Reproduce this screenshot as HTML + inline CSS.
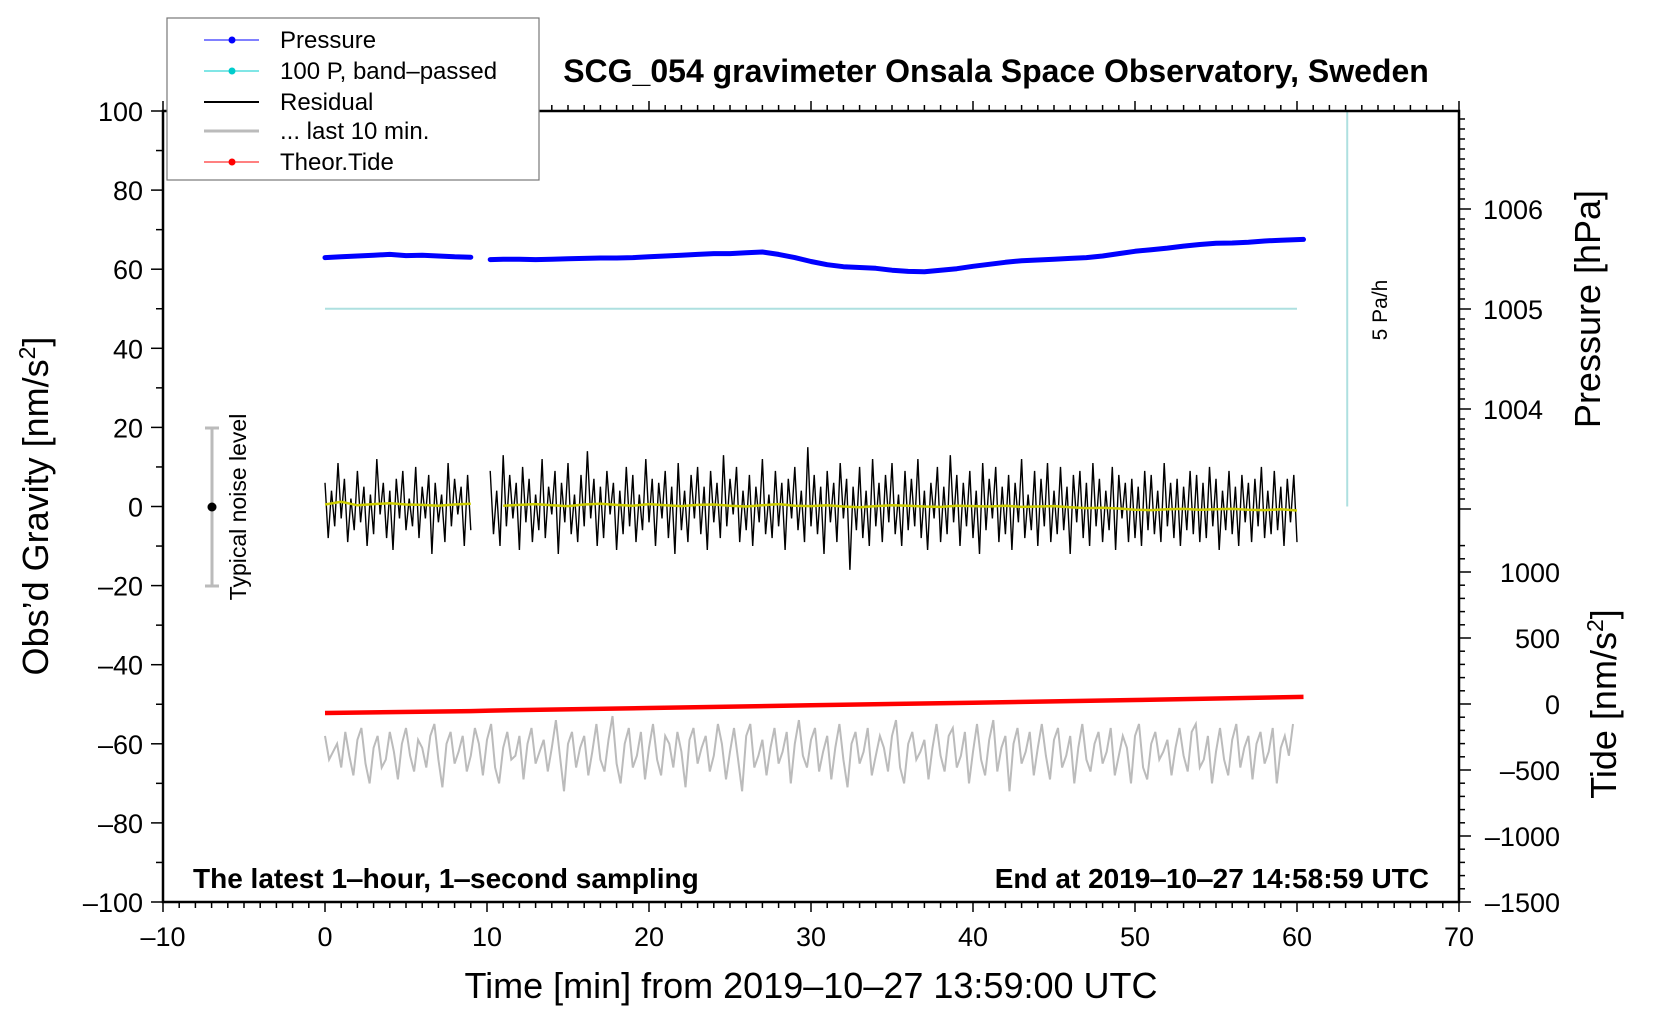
<!DOCTYPE html>
<html><head><meta charset="utf-8">
<style>
html,body{margin:0;padding:0;background:#fff;}
svg{display:block;font-family:"Liberation Sans",Arial,sans-serif;}
</style></head>
<body>
<svg id="chart" width="1660" height="1020" viewBox="0 0 1660 1020" xmlns="http://www.w3.org/2000/svg">
<rect x="0" y="0" width="1660" height="1020" fill="#fff"/>
<g id="marks"></g>
<g id="axes"></g>
<text x="996" y="82" font-size="32" font-weight="bold" text-anchor="middle">SCG_054 gravimeter Onsala Space Observatory, Sweden</text>
<text x="193" y="888" font-size="28" font-weight="bold">The latest 1‒hour, 1‒second sampling</text>
<text x="1429" y="888" font-size="28" font-weight="bold" text-anchor="end">End at 2019‒10‒27 14:58:59 UTC</text>
<text x="811" y="998" font-size="36" text-anchor="middle">Time [min] from 2019‒10‒27 13:59:00 UTC</text>
<text transform="translate(48,506) rotate(-90)" font-size="36" text-anchor="middle">Obs’d Gravity [nm/s<tspan dy="-13" font-size="23">2</tspan><tspan dy="13">]</tspan></text>
<text transform="translate(1600,309) rotate(-90)" font-size="36" text-anchor="middle">Pressure [hPa]</text>
<text transform="translate(1616,704) rotate(-90)" font-size="36" text-anchor="middle">Tide [nm/s<tspan dy="-13" font-size="23">2</tspan><tspan dy="13">]</tspan></text>
<text transform="translate(1387,310) rotate(-90)" font-size="21" text-anchor="middle">5 Pa/h</text>
<g>
<line x1="212" y1="428" x2="212" y2="586" stroke="#bbb" stroke-width="3"/>
<line x1="205" y1="428" x2="219" y2="428" stroke="#bbb" stroke-width="3"/>
<line x1="205" y1="586" x2="219" y2="586" stroke="#bbb" stroke-width="3"/>
<circle cx="212" cy="507" r="4.5" fill="#000"/>
<text transform="translate(246,507) rotate(-90)" font-size="23" text-anchor="middle">Typical noise level</text>
</g>
<g>
<rect x="167" y="18" width="372" height="162" fill="#fff" stroke="#777" stroke-width="1.2"/>
<g><line x1="204" y1="40" x2="259" y2="40" stroke="#00f" stroke-width="1"/><circle cx="232" cy="40" r="3.5" fill="#00f"/><text x="280" y="48" font-size="24">Pressure</text></g>
<g><line x1="204" y1="71" x2="259" y2="71" stroke="#0cc" stroke-width="1"/><circle cx="232" cy="71" r="3.5" fill="#0cc"/><text x="280" y="79" font-size="24">100 P, band‒passed</text></g>
<g><line x1="204" y1="102" x2="259" y2="102" stroke="#000" stroke-width="2"/><text x="280" y="110" font-size="24">Residual</text></g>
<g><line x1="204" y1="131" x2="259" y2="131" stroke="#bbb" stroke-width="3"/><text x="280" y="139" font-size="24">... last 10 min.</text></g>
<g><line x1="204" y1="162" x2="259" y2="162" stroke="#f00" stroke-width="1"/><circle cx="232" cy="162" r="3.5" fill="#f00"/><text x="280" y="170" font-size="24">Theor.Tide</text></g>
</g>
</svg>
<script>
// ---- data ----
const xTicks = [-10,0,10,20,30,40,50,60,70];
const yTicks = [100,80,60,40,20,0,-20,-40,-60,-80,-100];
const pTicks = [1006,1005,1004];
const tideTicks = [1000,500,0,-500,-1000,-1500];
const pressureHPa = [1005.514,1005.522,1005.530,1005.538,1005.546,1005.534,1005.538,1005.530,1005.522,1005.518,
 null,
 1005.494,1005.498,1005.498,1005.494,1005.498,1005.502,1005.506,1005.510,1005.510,1005.514,1005.522,1005.530,1005.538,1005.546,1005.554,1005.554,1005.562,1005.570,1005.546,1005.514,
 1005.475,1005.443,1005.423,1005.415,1005.407,1005.388,1005.376,1005.372,1005.388,1005.403,1005.427,1005.447,1005.467,1005.483,1005.490,1005.498,1005.506,1005.514,1005.530,1005.554,
 1005.577,1005.593,1005.609,1005.629,1005.645,1005.657,1005.660,1005.668,1005.680,1005.688,1005.696];
const pressureTimes = [0,1,2,3,4,5,6,7,8,9,9.5,10.2,11,12,13,14,15,16,17,18,19,20,21,22,23,24,25,26,27,28,29,30,31,32,33,34,35,36,37,38,39,40,41,42,43,44,45,46,47,48,49,50,51,52,53,54,55,56,57,58,59,60.4];
const bandPassed = [50,50];
const bandTimes = [0,60];
const residualStep = 0.2;
const residual = [
6,-8,4,-5,11,-3,7,-9,2,-6,9,-4,5,-10,3,-7,12,-2,6,-8,
4,-11,7,-3,9,-6,2,-5,10,-8,5,-3,8,-12,6,-4,3,-9,11,-5,
7,-2,5,-10,8,-6,
null,null,null,null,null,
9,-7,4,-10,13,-5,8,-3,6,-11,10,-4,7,-9,3,-6,12,-8,5,-2,
9,-12,6,-4,11,-7,3,-9,8,-5,14,-3,7,-10,5,-8,9,-2,6,-11,
4,-7,10,-5,8,-9,3,-6,12,-4,7,-10,6,-3,9,-8,5,-12,11,-6,
4,-9,8,-3,10,-7,5,-11,9,-4,6,-8,13,-5,7,-2,10,-9,4,-6,
8,-10,5,-4,12,-7,3,-8,9,-5,6,-11,7,-3,10,-6,4,-9,15,-5,
8,-7,5,-12,9,-4,6,-9,11,-3,7,-16,5,-6,10,-8,4,-10,12,-5,
6,-9,8,-4,11,-7,3,-10,9,-6,7,-5,12,-8,4,-11,6,-3,10,-9,
5,-7,13,-4,8,-10,6,-5,9,-8,4,-12,11,-6,7,-3,10,-9,5,-7,
8,-11,6,-4,12,-8,3,-6,9,-10,7,-5,11,-9,4,-7,10,-6,5,-12,
8,-4,9,-8,6,-10,11,-5,7,-9,4,-6,10,-11,8,-3,6,-9,7,-8,
5,-10,9,-6,8,-7,4,-9,11,-5,6,-8,7,-10,5,-6,9,-7,8,-9,
6,-8,10,-5,7,-11,4,-6,9,-7,5,-10,8,-4,6,-9,7,-5,10,-8,
4,-7,9,-6,5,-10,7,-4,8,-9];
const smoothStep = 1;
const smoothed = [0.5,1.2,0.3,0.6,0.8,0.5,0.4,0.2,0.5,0.7,null,0.2,0.4,0.6,0.3,0.1,0.5,0.7,0.4,0.2,
 0.6,0.3,0.1,0.4,0.5,0.2,0.0,0.3,0.6,0.2,0.1,0.3,0.0,-0.2,0.1,0.3,0.2,0.0,-0.1,0.2,
 0.1,0.0,0.2,-0.1,0.0,0.1,-0.2,-0.4,-0.3,-0.5,-0.8,-0.9,-0.7,-0.6,-0.8,-0.7,-0.6,-0.8,-0.9,-0.7,-1.0];
const lastStep = 0.25;
const last10 = [
-58,-64,-62,-60,-66,-57,-63,-68,-59,-56,-65,-70,-61,-58,-66,-64,-57,-62,-69,-60,
-56,-63,-67,-59,-61,-66,-58,-55,-64,-71,-60,-57,-65,-62,-58,-67,-63,-56,-60,-68,
-59,-55,-66,-70,-61,-57,-64,-63,-58,-69,-60,-56,-65,-62,-59,-67,-61,-54,-63,-72,
-60,-57,-66,-61,-58,-68,-62,-55,-64,-67,-59,-53,-65,-70,-60,-56,-66,-63,-57,-69,
-61,-55,-64,-68,-58,-60,-66,-57,-62,-71,-59,-56,-65,-61,-58,-67,-63,-55,-60,-69,
-62,-56,-64,-72,-58,-55,-66,-63,-59,-68,-61,-56,-65,-62,-57,-70,-60,-54,-63,-66,
-59,-56,-67,-62,-58,-69,-61,-55,-64,-71,-60,-57,-65,-62,-56,-68,-63,-58,-61,-67,
-58,-54,-66,-70,-60,-57,-64,-62,-59,-69,-61,-55,-63,-67,-58,-56,-66,-63,-57,-70,
-62,-55,-64,-68,-59,-54,-67,-61,-58,-72,-60,-56,-65,-62,-57,-68,-61,-55,-63,-69,
-59,-56,-66,-63,-58,-70,-61,-55,-64,-67,-60,-57,-65,-62,-56,-68,-63,-58,-61,-70,
-58,-55,-66,-69,-60,-57,-64,-62,-59,-68,-61,-56,-63,-67,-57,-55,-66,-64,-58,-70,
-62,-56,-64,-68,-59,-55,-66,-61,-58,-69,-60,-57,-65,-62,-56,-70,-61,-58,-63,-55];
const tideTimes = [0,9,10.2,20,30,40,50,60.4];
const tideValues = [-68,-54,-50,-30,-10,10,30,54];

// ---- axes functions ----
const X0=163, X1=1459, Y0=111, Y1=902;
const xS = t => X0 + (t+10)*(X1-X0)/80;
const yS = v => Y1 - (v+100)*(Y1-Y0)/200;
const pS = p => 309 - (p-1005)*100;
const tS = v => 704 - v*0.132;
const NS='http://www.w3.org/2000/svg';
const marks=document.getElementById('marks'), axes=document.getElementById('axes');
function mk(tag, attrs, parent){const e=document.createElementNS(NS,tag);for(const k in attrs)e.setAttribute(k,attrs[k]);parent.appendChild(e);return e;}
function pathFrom(times, vals, sx, sy){let d='',pen=false;for(let i=0;i<vals.length;i++){if(vals[i]===null){pen=false;continue;}d+=(pen?'L':'M')+sx(times[i]).toFixed(1)+' '+sy(vals[i]).toFixed(1);pen=true;}return d;}

let e=mk('path',{d:pathFrom(bandTimes,bandPassed,xS,yS),stroke:'#aee0e0','stroke-width':2,fill:'none'},marks);


e=mk('line',{x1:xS(63.1),y1:Y0,x2:xS(63.1),y2:yS(0),stroke:'#aee0e0','stroke-width':2},marks);


e=mk('path',{d:pathFrom(pressureTimes,pressureHPa,xS,pS),stroke:'#00f','stroke-width':5,fill:'none','stroke-linejoin':'round','stroke-linecap':'round'},marks);


const rT=residual.map((_,i)=>i*residualStep);
e=mk('path',{d:pathFrom(rT,residual,xS,yS),stroke:'#000','stroke-width':1.4,fill:'none'},marks);


const sT=smoothed.map((_,i)=>i*smoothStep);
e=mk('path',{d:pathFrom(sT,smoothed,xS,yS),stroke:'#cccc00','stroke-width':2.5,fill:'none'},marks);


const lT=last10.map((_,i)=>i*lastStep);
e=mk('path',{d:pathFrom(lT,last10,xS,yS),stroke:'#bbb','stroke-width':2,fill:'none'},marks);


e=mk('path',{d:pathFrom(tideTimes,tideValues,xS,tS),stroke:'#f00','stroke-width':4.5,fill:'none'},marks);



e=mk('rect',{x:X0,y:Y0,width:X1-X0,height:Y1-Y0,fill:'none',stroke:'#000','stroke-width':2.5},axes);


for(let m=-10;m<=70;m++){const x=xS(m),maj=m%10===0;
 mk('line',{x1:x,y1:Y1,x2:x,y2:Y1+(maj?10:6),stroke:'#000','stroke-width':1.5},axes);
 mk('line',{x1:x,y1:Y0,x2:x,y2:Y0-(maj?10:6),stroke:'#000','stroke-width':1.5},axes);}
xTicks.forEach(v=>{const t=mk('text',{x:xS(v),y:946,'font-size':27,'text-anchor':'middle'},axes);t.textContent=String(v).replace('-','–');
 
 });
for(let v=-100;v<=100;v+=10){const y=yS(v),maj=v%20===0;mk('line',{x1:X0,y1:y,x2:X0-(maj?12:7),y2:y,stroke:'#000','stroke-width':1.5},axes);}
yTicks.forEach(v=>{const t=mk('text',{x:X0-20,y:yS(v)+10,'font-size':27,'text-anchor':'end'},axes);t.textContent=String(v).replace('-','–');
 
 });
for(let k=0;k<=40;k++){const p=1007-k*0.1,y=pS(p);if(y<Y0-1)continue;const maj=Math.abs(p-Math.round(p))<1e-6;
 mk('line',{x1:X1,y1:y,x2:X1+(maj?12:6),y2:y,stroke:'#000','stroke-width':1.5},axes);}
pTicks.forEach(v=>{const t=mk('text',{x:1483,y:pS(v)+10,'font-size':27},axes);t.textContent=v;
 
 });
for(let v=1200;v>=-1500;v-=100){const y=tS(v),maj=v%500===0;mk('line',{x1:X1,y1:y,x2:X1+(maj?12:6),y2:y,stroke:'#000','stroke-width':1.5},axes);}
tideTicks.forEach(v=>{const t=mk('text',{x:1560,y:tS(v)+10,'font-size':27,'text-anchor':'end'},axes);t.textContent=String(v).replace('-','–');
 
 });
</script>
</body></html>
